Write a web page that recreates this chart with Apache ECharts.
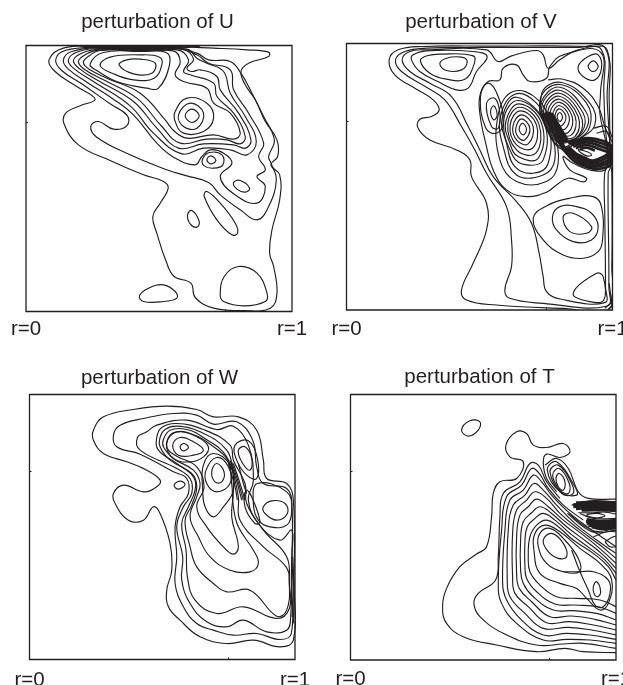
<!DOCTYPE html>
<html><head><meta charset="utf-8">
<style>html,body{margin:0;padding:0;background:#fff}#c{width:623px;height:685px}</style>
<script src="https://cdn.jsdelivr.net/npm/echarts@6/dist/echarts.min.js"></script>
</head><body><div id="c"></div>
<script>
const panelTitles=['perturbation of U','perturbation of V','perturbation of W','perturbation of T'];
// traced extent of each panel in the units the contours were read in: [xmin, ymin, xmax, ymax]
const uExtent=[78,137,875,935], vExtent=[50,131,848,930], wExtent=[88,133,885,928], tExtent=[62,133,858,930];
// closed contours, flat x,y lists
const uRings=[
[147,180,165,215,230,260,285,298,240,318,197,340,192,372,235,435,330,482,430,525,490,545,504,565,480,610,458,650,470,700,498,785,522,830,572,850,585,893,640,925,730,932,810,925,830,880,820,800,808,760,815,690,838,600,838,525,812,495,832,470,830,420,795,365,765,300,735,255,722,215,745,190,805,170,805,157,740,150,640,145,500,140,300,139,190,145],
[167,180,185,212,245,252,330,312,382,348,380,378,340,388,295,365,272,380,290,412,390,465,500,510,560,528,625,548,660,585,720,630,770,660,805,620,828,540,812,490,805,470,822,420,790,350,755,280,722,220,690,185,625,180,590,160,520,143,300,142,195,152],
[190,180,205,208,265,250,340,298,400,345,470,430,520,472,585,495,605,470,630,450,670,460,695,490,660,530,700,582,770,610,795,560,770,530,795,510,775,470,790,430,745,340,700,270,690,210,625,190,590,165,530,146,300,144,215,155],
[205,180,220,205,280,245,390,318,460,400,545,462,610,445,690,450,740,465,768,425,735,350,690,280,670,215,620,190,590,175,560,148,300,146,230,157],
[220,182,240,208,295,243,400,305,470,385,535,445,610,432,700,435,735,445,752,420,715,340,660,270,650,230,600,210,575,215,560,205,580,178,545,148,300,148,245,160],
[235,185,255,210,310,240,410,295,485,380,540,430,620,418,680,420,720,432,735,410,700,340,650,290,640,250,570,225,550,215,565,180,530,150,300,150,258,163],
[250,188,270,210,320,235,420,280,495,360,520,392,560,415,640,405,700,418,720,400,690,340,640,310,620,265,550,245,525,225,540,185,518,153,300,152,270,166],
[270,193,290,212,350,245,440,265,475,265,508,195,498,158,420,155,310,158],
[300,197,340,222,400,240,462,235,485,195,478,172,420,165,330,172],
[357,195,400,222,455,220,465,190,420,178,380,180],
[555,348,575,328,597,348,575,368],
[535,345,570,310,610,340,590,385,550,380],
[525,335,560,295,620,310,640,355,610,395,550,400,525,365],
[620,480,632,468,647,482,632,492],
[607,478,628,458,665,465,668,495,640,505,612,498],
[700,548,720,542,748,565,735,577,710,568],
[562,645,575,632,597,665,590,682,570,672],
[612,590,620,575,660,610,705,670,712,700,695,705,650,660],
[660,885,672,830,715,800,770,820,800,880,795,905,730,918,670,905],
[418,888,445,865,490,855,525,875,530,895,490,905,430,905]];
const uLines=[[300,138,420,146,540,138],[330,138,420,143,510,138],[280,138,420,149,560,138],[260,138,420,152,585,138],[240,138,420,154,600,139]];
const uDense=[[345,139,420,143,495,139],[375,139,420,146,470,139]];
const vRings=[
[178,180,195,225,260,268,310,300,328,330,305,350,270,358,265,385,300,420,380,450,420,480,425,530,470,610,470,690,430,790,395,870,410,900,500,915,700,925,838,927,846,800,846,520,842,480,838,300,832,150,780,140,470,139,280,140,205,150],
[197,180,215,215,290,262,345,300,395,380,435,450,470,520,530,620,545,720,545,800,525,870,540,895,640,910,832,918,837,860,835,520,842,500,832,300,826,145,740,143,470,143,290,145,225,155],
[217,180,240,215,300,250,365,290,415,380,450,450,490,530,560,605,605,670,628,760,640,830,650,875,690,897,825,908,827,860,825,650,824,525,835,480,826,380,822,280,815,150,745,150,690,180,655,205,640,165,620,152,545,168,505,185,470,150,290,150,240,155],
[245,180,270,215,330,248,380,270,415,265,440,215,472,170,430,155,290,153,250,165],
[272,185,300,220,350,238,405,238,432,195,430,168,330,163,285,170],
[330,192,350,212,395,210,412,185,395,172,350,175],
[510,240,520,205,560,195,580,225,600,245,650,235,660,200,700,165,812,157,812,280,810,340,830,440,830,505,790,512,730,490,700,470,720,510,770,535,762,546,715,535,680,555,650,577,590,590,530,570,490,510,470,440,450,340,452,280,475,245],
[775,200,790,183,805,200,790,215],
[745,200,775,170,805,165,815,205,795,240,760,230],
[482,335,492,318,502,345,492,360],
[470,310,495,295,510,340,505,385,485,380],
[452,290,475,250,505,290,520,370,500,400,468,385],
[700,650,730,640,785,680,770,700,720,695],
[668,650,690,620,740,620,785,640,805,680,785,720,730,725,680,690],
[610,655,650,618,720,595,790,590,815,620,818,720,805,755,760,775,700,765,640,720],
[730,880,800,820,820,830,822,900,780,905],
[568,388,578,370,590,388,580,405],
[558,385,575,357,600,385,585,420,565,412],
[549,380,575,345,610,380,595,432,562,422],
[541,375,572,333,620,375,608,445,560,435],
[534,370,570,322,627,372,618,460,560,450],
[528,365,568,312,635,370,625,475,565,470,540,430],
[522,360,565,302,642,368,640,480,590,495,550,470],
[517,355,560,292,650,375,655,490,610,520,555,500,530,430],
[512,350,555,283,620,310,660,390,675,480,640,525,560,525,520,440],
[505,345,550,275,625,300,668,390,685,490,650,545,560,545,510,480],
[682,350,690,338,698,352,690,365],
[675,350,688,327,708,350,695,378,680,370],
[668,345,688,317,718,350,705,388,678,380],
[660,340,688,307,727,350,715,398,675,388],
[654,335,688,298,736,350,725,405,680,395],
[648,330,688,289,745,350,735,410,685,405],
[642,325,688,280,752,345,748,405,700,420,665,390],
[636,320,688,271,760,340,757,395,710,425,670,410],
[632,310,690,262,768,335,770,385,720,425,680,425,645,375],
[632,295,690,254,770,310,780,380,735,425,690,440,650,385],
[636,280,695,248,780,310,795,375,745,420,700,450,655,395],
[745,450,770,455,785,465,770,468]];
const vLines=[
[655,240,700,238,760,265,805,320,825,380,842,420],
[800,400,830,395,848,430],[790,385,830,380,848,415],
[825,925,848,905],[835,928,848,915],[838,850,848,930],[842,880,848,925]];
const vDense=[
[700,448,735,485,790,506,835,500,848,485],
[705,445,740,480,790,500,835,490,848,475],
[710,442,745,475,790,494,835,481,848,465],
[715,440,750,470,790,488,830,474,848,458],
[740,462,765,474,790,482,825,468,848,450],
[715,430,770,415,825,425,848,440],
[722,435,770,421,820,432,848,445],
[730,440,770,427,815,440,845,452],
[738,445,770,435,810,448,838,458],
[750,448,770,443,795,452],
[638,340,662,385,690,432,700,448],
[645,338,670,382,697,430,705,445],
[652,336,677,380,703,428],
[659,336,684,380,709,425],
[666,340,690,382,713,420]];
const wRings=[
[280,240,310,200,400,178,500,168,590,178,640,200,715,200,770,240,790,330,800,385,860,400,880,450,882,700,880,870,840,890,760,870,680,880,600,860,540,810,505,770,500,720,515,660,510,580,480,490,460,470,430,510,385,510,345,460,340,430,370,405,430,425,470,410,480,390,440,360,380,335,310,310,280,270],
[340,255,360,225,430,205,520,190,590,195,640,222,710,215,758,270,770,350,790,400,860,415,876,470,874,690,874,850,840,868,770,850,700,855,640,840,590,820,550,770,525,700,530,620,525,530,540,470,565,430,560,385,520,365,420,312,350,290],
[412,262,440,245,470,225,560,210,650,238,700,228,745,285,760,390,745,450,775,520,840,570,875,540,876,610,872,800,860,840,800,845,730,810,680,830,620,815,570,760,545,690,548,620,530,530,550,470,575,430,570,385,530,355,420,300],
[470,262,485,232,530,220,610,238,690,285,700,330,735,400,740,460,790,540,860,620,868,700,868,775,830,805,730,770,650,790,585,750,562,680,558,600,545,520,565,470,585,420,580,380,530,340,475,300],
[480,262,495,238,530,228,600,245,680,300,700,370,715,440,720,510,790,590,858,650,868,700,860,780,830,798,750,720,680,725,640,700,590,650,570,590,555,510,575,465,590,410,575,370,510,330,480,290],
[490,268,510,240,560,238,610,262,680,320,695,400,700,470,715,530,760,600,775,640,750,665,690,660,630,620,595,560,570,500,590,440,600,400,580,360,520,325,490,290],
[500,275,520,248,570,250,620,275,690,340,700,420,695,500,715,590,700,612,670,590,620,530,590,470,612,410,590,350,530,318,505,300],
[772,400,860,425,875,480,860,525,810,530,775,510,760,460],
[790,470,815,452,855,460,862,490,830,510,795,490],
[610,345,640,310,690,345,700,420,670,470,640,500,615,470,608,420],
[618,360,650,322,685,350,690,400,650,425,620,400],
[635,365,650,340,672,365,665,395,645,395],
[518,285,540,262,580,275,610,300,580,315,535,315],
[500,280,530,245,590,260,625,290,610,320,570,335,520,325],
[540,290,552,280,565,292,550,302],
[522,405,540,393,555,403,535,417],
[715,300,735,290,755,325,750,360,725,335],
[705,285,745,272,772,325,770,385,740,375,710,330],
[738,420,755,440,780,515,765,520,735,470]];
const wLines=[[690,330,712,400,725,450],[700,340,720,400,735,450],[685,340,705,410,712,450],[715,340,730,400,740,430],[695,335,716,400,730,450],[876,640,880,720,876,800],[878,620,882,720,880,820]];
const wDense=[];
const tRings=[
[395,240,420,212,450,215,445,240,415,258],
[612,600,615,550,645,525,690,545,750,595,810,640,845,690,835,760,810,780,770,745,740,715,690,700,630,670],
[625,590,630,550,660,535,700,565,745,625,748,665,700,665,650,640],
[640,570,665,550,700,580,710,620,685,625,655,605],
[790,710,800,695,812,725,803,740,792,730],
[678,385,688,370,705,395,700,420,685,410],
[668,375,688,355,718,400,715,430,690,420],
[660,365,685,345,725,400,728,432,695,430],
[652,360,680,335,735,410,740,435,690,425],
[770,495,800,490,825,497,800,503]];
const tLines=[
[858,908,760,905,705,895,620,905,500,885,400,860,350,820,338,770,350,715,390,650,440,612,470,590,485,500,490,430,510,395,560,385,580,335,540,320,528,285,560,245,590,250,610,285,650,292,700,280,720,305,690,322,650,312,640,335,650,385,680,425],
[858,895,760,880,700,882,620,885,520,850,450,800,432,760,445,730,497,690,505,620,510,500,520,430,570,395,600,340,625,345,650,395,690,445],
[858,880,780,870,710,868,640,870,560,820,515,760,505,700,515,540,530,440,575,405,605,355,628,370,655,415,700,465,760,510],
[858,868,780,855,710,850,640,855,570,805,530,750,518,700,525,540,540,450,580,420,610,375,635,395,665,435,720,490,800,550,858,590],
[858,855,785,840,715,832,640,835,585,790,540,740,532,690,535,540,550,465,585,435,612,400,640,420,680,465,735,520,800,570,858,610],
[858,840,790,825,720,815,650,818,595,770,555,730,548,680,548,550,560,480,590,450,615,425,650,445,690,490,750,540,810,585,858,625],
[858,825,795,808,725,798,660,800,605,755,568,715,560,670,560,560,570,495,595,470,620,447,655,470,700,510,760,555,815,600,858,640],
[858,810,800,790,730,782,670,780,610,740,580,700,572,660,572,570,580,515,605,488,630,470,665,490,710,530,770,575,820,615,858,655],
[858,790,805,770,735,765,675,762,620,725,590,685,585,650,585,575,592,530,615,505,640,490,675,510,720,550,780,595,825,630,858,670],
[858,770,810,750,740,745,680,740,630,705,600,665,595,620,600,560,620,525,650,510,685,530,730,570,790,610,835,650,858,690],
[725,600,750,665,775,720,795,765,820,770,840,730,835,690,790,665,748,665,700,665],
[645,345,680,325,715,355,745,425,775,445,858,447],
[725,465,780,452,858,455],[745,488,790,488,825,486,858,492],[750,490,790,505,858,505],
[712,490,760,530,800,548,858,540],[716,490,762,527,800,544,858,535],
[825,575,850,560,858,558],[825,575,840,590,858,590],[790,560,830,545,858,545]];
const tDense=[
[738,458,790,456,858,458],[730,464,790,462,858,464],[730,470,790,468,858,470],[738,476,790,474,858,476],[755,481,795,480,858,482],
[770,508,805,513,858,510],[768,514,805,519,858,516],[770,520,805,525,858,522],[775,526,808,531,858,528],[785,531,815,536,858,533]];

const extents=[uExtent,vExtent,wExtent,tExtent];
const rings=[uRings,vRings,wRings,tRings];
const lines=[uLines,vLines,wLines,tLines];
const dense=[uDense,vDense,wDense,tDense];
const grids=[{left:26,top:45.5,width:266,height:266},{left:346.5,top:43.5,width:266,height:266.5},{left:29.5,top:394.5,width:265.5,height:265},{left:350.5,top:394.5,width:265.5,height:265.5}];
const titlePos=[[157.5,22],[481,22],[159.5,378.5],[479.5,377]];
const labelMargins=[7,9,10,9];
const ink='#231f20';
const tension=0.42;
function toData(flat,e){
  const out=[];
  for(let i=0;i<flat.length;i+=2) out.push([(flat[i]-e[0])/(e[2]-e[0]),1-(flat[i+1]-e[1])/(e[3]-e[1])]);
  return out;
}
// A smooth path through the mapped contour points (coordinates come from the cartesian scale via api.coord).
function pathThrough(p,closed){
  const n=p.length, at=i=>closed?p[(i+n)%n]:p[Math.max(0,Math.min(n-1,i))];
  const dist=(a,b)=>Math.hypot(a[0]-b[0],a[1]-b[1])||1e-6;
  let d='M'+p[0][0]+' '+p[0][1];
  const segs=closed?n:n-1;
  for(let i=0;i<segs;i++){
    const a=at(i-1),b=at(i),c=at(i+1),e=at(i+2);
    const l0=dist(a,b),l1=dist(b,c),l2=dist(c,e);
    const r1=tension*l1/(l0+l1), r2=tension*l1/(l1+l2);
    d+='C'+(b[0]+(c[0]-a[0])*r1)+' '+(b[1]+(c[1]-a[1])*r1)+' '+(c[0]-(e[0]-b[0])*r2)+' '+(c[1]-(e[1]-b[1])*r2)+' '+c[0]+' '+c[1];
  }
  return d+(closed?'Z':'');
}
const series=[];
for(let p=0;p<4;p++){
  const e=extents[p];
  const curves=rings[p].map(c=>({pts:toData(c,e),closed:true,w:1.15}))
    .concat(lines[p].map(c=>({pts:toData(c,e),closed:false,w:1.15})))
    .concat(dense[p].map(c=>({pts:toData(c,e),closed:false,w:2.8})));
  series.push({type:'custom',coordinateSystem:'cartesian2d',xAxisIndex:p,yAxisIndex:p,clip:true,silent:true,animation:false,
    data:curves.map(c=>c.pts[0]),
    renderItem:(params,api)=>{
      const c=curves[params.dataIndex];
      return {type:'path',shape:{pathData:pathThrough(c.pts.map(q=>api.coord(q)),c.closed)},style:{fill:null,stroke:ink,lineWidth:c.w}};
    }});
}
const chart=echarts.init(document.getElementById('c'),null,{renderer:'canvas'});
chart.setOption({
  animation:false,backgroundColor:'#fff',
  title:panelTitles.map((t,i)=>({text:t,left:titlePos[i][0],top:titlePos[i][1],textAlign:'center',textVerticalAlign:'middle',
    textStyle:{fontFamily:'Liberation Sans',fontSize:20.5,fontWeight:'normal',color:ink},padding:0})),
  grid:grids.map(g=>Object.assign({show:true,borderColor:ink,borderWidth:1.3,backgroundColor:'transparent',containLabel:false,outerBoundsMode:'none'},g)),
  xAxis:grids.map((g,i)=>({type:'value',gridIndex:i,min:0,max:1,interval:1,splitLine:{show:false},axisLine:{show:false},
    axisTick:{show:true,inside:true,length:2,customValues:[0.75],lineStyle:{color:ink}},
    axisLabel:{customValues:[0,1],formatter:v=>'r='+v,margin:labelMargins[i],fontFamily:'Liberation Sans',fontSize:20.5,color:ink,hideOverlap:false,showMinLabel:true,showMaxLabel:true}})),
  yAxis:grids.map((g,i)=>({type:'value',gridIndex:i,min:0,max:1,interval:1,splitLine:{show:false},axisLine:{show:false},
    axisTick:{show:true,inside:true,length:2,customValues:[0.71],lineStyle:{color:ink}},axisLabel:{show:false}})),
  series
});
</script></body></html>
